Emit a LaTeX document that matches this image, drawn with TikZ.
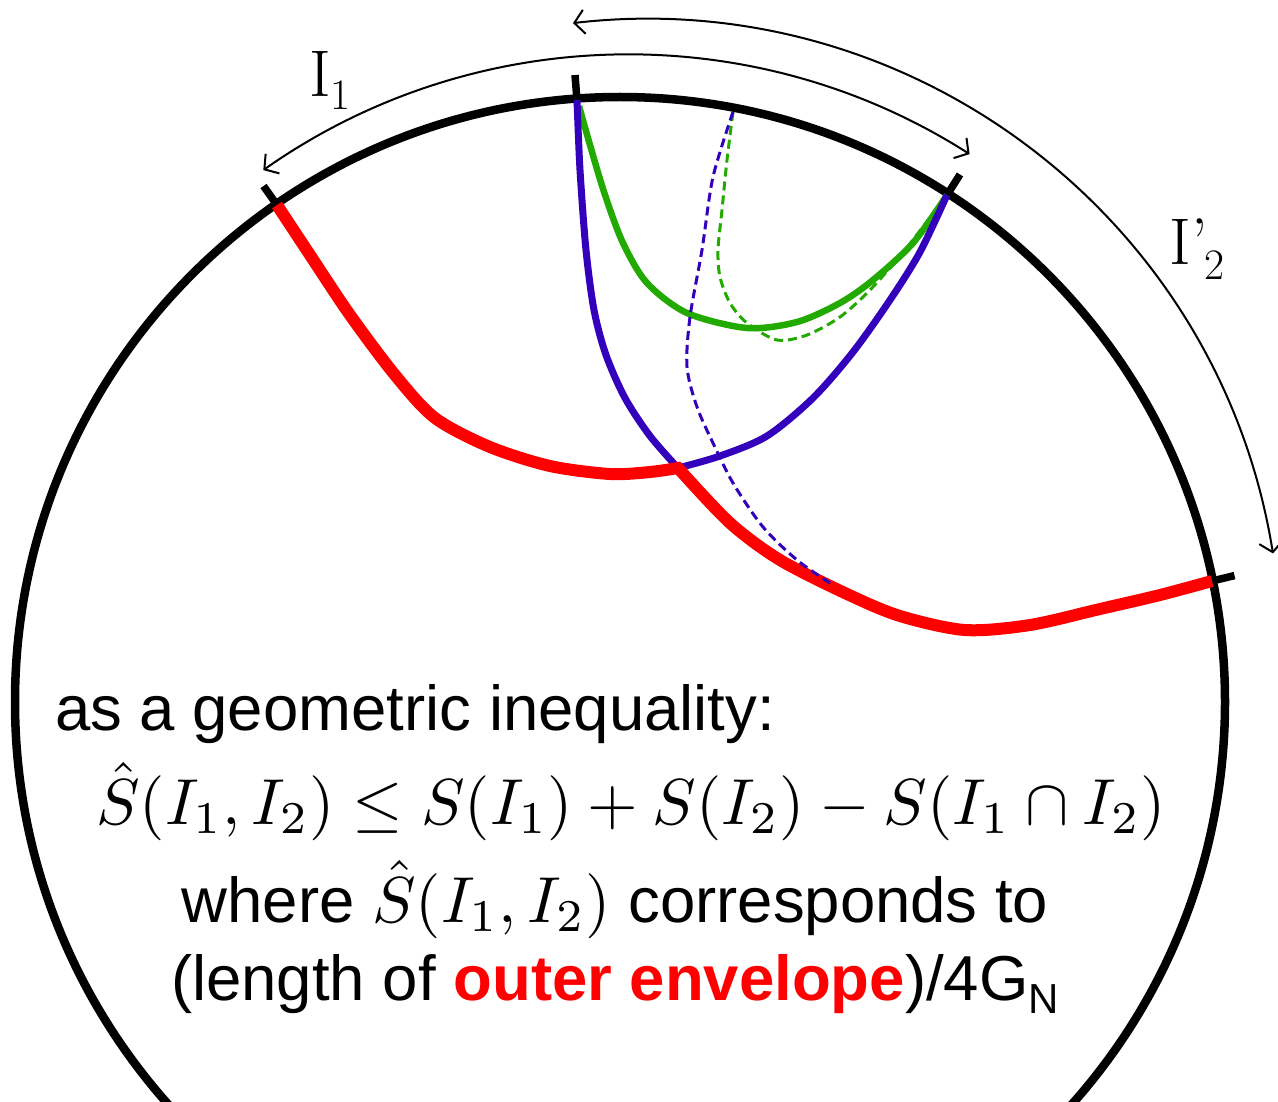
\documentclass[tikz,border=0pt]{standalone}
\usepackage{fontspec}
\usepackage{graphicx}
\newfontfamily\sansfnt{Liberation Sans}
\usetikzlibrary{arrows.meta}
\definecolor{myred}{RGB}{255,0,0}
\definecolor{myblue}{RGB}{51,0,187}
\definecolor{mygreen}{RGB}{34,170,0}
\newcommand{\bigmath}[1]{\scalebox{6.5}{\fontsize{10}{12}\selectfont$#1$}}
\begin{document}
\begin{tikzpicture}[x=1pt,y=-1pt,
  boundary/.style={line width=8.5pt,black},
  tickmark/.style={line width=7.5pt,black},
  envelope/.style={line width=12pt,myred,line join=miter},
  bluegeo/.style={line width=7pt,myblue},
  greengeo/.style={line width=6.5pt,mygreen},
  bluedash/.style={line width=3pt,myblue,dash pattern=on 9pt off 5pt},
  greendash/.style={line width=3pt,mygreen,dash pattern=on 9pt off 5pt},
  spanarrow/.style={line width=2pt,black,{Straight Barb[length=10pt,width=24pt]}-{Straight Barb[length=10pt,width=24pt]}},
  txt/.style={inner sep=0pt,outer sep=0pt,font=\sansfnt\fontsize{63.5}{70}\selectfont},
  lbl/.style={inner sep=0pt,outer sep=0pt,font=\fontsize{66}{70}\selectfont}
]
\useasboundingbox (0,0) rectangle (1278,1102);
\clip (0,0) rectangle (1278,1102);
\fill[white] (0,0) rectangle (1278,1102);

% boundary circle
\coordinate (O) at (620,702);
\draw[boundary] (O) circle[radius=605];

% endpoints on the boundary
\coordinate (A) at (277,205);
\coordinate (B) at (577,100);
\coordinate (C) at (947,195);
\coordinate (D) at (1212,581);
\coordinate (E) at (733,112);
\coordinate (J) at (678,468);

% tick marks
\coordinate (Ao) at (263.5,186);
\coordinate (Bo) at (575,75);
\coordinate (Co) at (960,174.5);
\coordinate (Do) at (1234.5,575.6);
\draw[tickmark] (A) -- (Ao);
\draw[tickmark] (B) -- (Bo);
\draw[tickmark] (C) -- (Co);
\draw[tickmark] (D) -- (Do);

% green solid geodesic
\draw[greengeo] plot[smooth] coordinates {(579,106) (590,145) (605,195) (623,243) (647,283) (687,313) (747,328) (797,322) (840,303) (873,280) (913,243) (C)};
% green dashed
\draw[greendash] plot[smooth] coordinates {(E) (727,160) (722,210) (718,250) (720,277) (730,303) (747,323) (777,340) (807,335) (840,317) (870,290) (905,250) (C)};
% blue solid geodesics
\draw[bluegeo,line join=round] plot[smooth] coordinates {(B) (580,170) (586,250) (594,310) (606,355) (625,398) (650,436) (J)}
  -- plot[smooth] coordinates {(J) (720,456) (767,436) (813,398) (853,352) (890,300) (920,252) (C)};
% red outer envelope
\draw[envelope] plot[smooth] coordinates {(A) (310,255) (350,315) (395,375) (435,418) (490,447) (550,466) (610,474) (650,472) (J)}
  -- plot[smooth] coordinates {(J) (730,523) (780,560) (847,594) (900,616) (965,630) (1030,625) (1100,609) (1160,595) (D)};
% blue dashed
\draw[bluedash] plot[smooth] coordinates {(E) (713,177) (702,250) (690,317) (687,367) (697,407) (713,443) (733,483) (763,527) (797,560) (830,583)};

% interval arrows
\coordinate (I1a) at (263.3,170.1);
\draw[spanarrow] (I1a) arc[start angle=-125.1, end angle=-57.5, radius=635] coordinate (I1b);
\coordinate (I2a) at (573,23.1);
\draw[spanarrow] (I2a) arc[start angle=-96.6, end angle=-9.1, radius=635] coordinate (I2b);

% labels
\node[lbl,anchor=base west] (labI1) at (309,97) {I\raisebox{-13pt}{\fontsize{43.5}{46}\selectfont 1}};
\node[lbl,anchor=base west] (labI2) at (1169,265) {I\kern1pt’\kern-4pt\raisebox{-15pt}{\fontsize{43.5}{46}\selectfont 2}};

% text
\node[txt,anchor=base west] (t1) at (55,730) {as a geometric inequality:};
\node[txt,anchor=base] (t2) at (631,824) {\bigmath{\hat{S}(I_1,I_2)\leq S(I_1)+S(I_2)-S(I_1\cap I_2)}};
\node[txt,anchor=base] (t3) at (615,922) {where \bigmath{\hat{S}(I_1,I_2)} corresponds to};
\node[txt,anchor=base] (t4) at (615,1000) {(length of {\bfseries\color{myred}outer envelope})/4G\raisebox{-13pt}{\fontsize{42}{46}\selectfont N}};
\end{tikzpicture}
\end{document}
